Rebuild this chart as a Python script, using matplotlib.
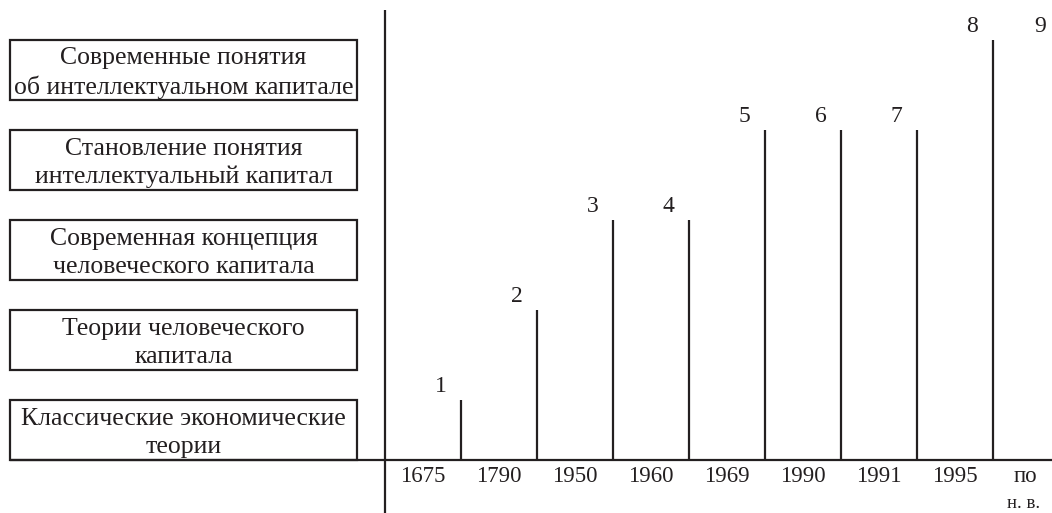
import matplotlib
matplotlib.use('Agg')
import matplotlib.pyplot as plt
from matplotlib.patches import Rectangle

plt.rcParams['font.family'] = ['Liberation Serif', 'DejaVu Serif']

# этапы (снизу вверх)
stages = ['Классические экономические\nтеории',
          'Теории человеческого\nкапитала',
          'Современная концепция\nчеловеческого капитала',
          'Становление понятия\nинтеллектуальный капитал',
          'Современные понятия\nоб интеллектуальном капитале']

# уровень каждой вертикали 1..8
stem_num = [1, 2, 3, 4, 5, 6, 7, 8]
stem_level = [1, 2, 3, 3, 4, 4, 4, 5]
num_labels = ['1', '2', '3', '4', '5', '6', '7', '8', '9']
years = ['1675', '1790', '1950', '1960', '1969', '1990', '1991', '1995', 'по']

ink = '#231f20'
lw = 1.6

fig = plt.figure(figsize=(10.52, 5.13), dpi=100)
ax = fig.add_axes([0, 0, 1, 1])
ax.set_xlim(-385 / 76, 667 / 76)
ax.set_ylim(-53 / 90, 460 / 90)
ax.axis('off')

# оси
ax.plot([0, 0], [-0.6, 5.0], color=ink, lw=lw, solid_capstyle='butt')
ax.plot([-4.93, 9], [0, 0], color=ink, lw=lw, solid_capstyle='butt')

# блоки слева
for i, s in enumerate(stages):
    ax.add_patch(Rectangle((-4.93, i), 4.56, 2 / 3, fill=False,
                           edgecolor=ink, lw=lw))
    ax.text(-4.93 + 4.56 / 2, i + 1 / 3 - 0.03, s, ha='center', va='center',
            fontsize=18.5, color=ink, linespacing=1.33)

# вертикали
for n, lev in zip(stem_num, stem_level):
    top = lev - 1 / 3
    ax.plot([n, n], [0, top], color=ink, lw=lw, solid_capstyle='butt')
    ax.text(n - 0.27, top + 0.15, num_labels[n - 1], ha='center',
            va='center', fontsize=17, color=ink)
ax.text(8.62, 5 - 1 / 3 + 0.15, num_labels[8], ha='center', va='center',
        fontsize=17, color=ink)

# годы
for i, y in enumerate(years):
    ax.text(i + 0.5 - (0.07 if i == 8 else 0), -0.18, y, ha='center',
            va='center', fontsize=16.5, color=ink)
ax.text(8.4, -0.48, 'н. в.', ha='center', va='center', fontsize=13.5,
        color=ink)

fig.savefig('out.png', dpi=100)
